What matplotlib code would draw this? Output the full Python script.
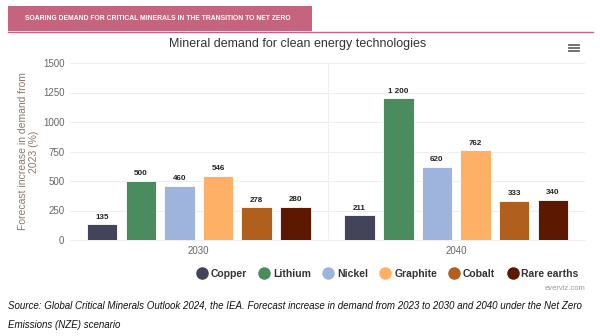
import matplotlib
matplotlib.use("Agg")
import matplotlib.pyplot as plt
from matplotlib.patches import Rectangle
from matplotlib.lines import Line2D
import numpy as np

years = ["2030", "2040"]
minerals = ["Copper", "Lithium", "Nickel", "Graphite", "Cobalt", "Rare earths"]
copper = [135, 211]
lithium = [500, 1200]
nickel = [460, 620]
graphite = [546, 762]
cobalt = [278, 333]
rare_earths = [280, 340]
labels_2040 = ["211", "1 200", "620", "762", "333", "340"]
colors = ["#434459", "#4a8c5e", "#9fb4dd", "#feb066", "#b0601c", "#5c1800"]
yticks = [0, 250, 500, 750, 1000, 1250, 1500]

series = [copper, lithium, nickel, graphite, cobalt, rare_earths]

plt.rcParams["font.family"] = ["Liberation Sans", "DejaVu Sans"]

fig = plt.figure(figsize=(6, 3.36), dpi=100)
fig.patch.set_facecolor("white")

# header banner
fig.add_artist(Rectangle((8/600, 1-31/336), (312-8)/600, 25/336, transform=fig.transFigure,
                         facecolor="#c4647f", edgecolor="none"))
fig.add_artist(Line2D([8/600, 593/600], [1-31.5/336, 1-31.5/336], transform=fig.transFigure,
                      color="#c4647f", lw=1))
fig.text(25/600, 1-19/336, "SOARING DEMAND FOR CRITICAL MINERALS IN THE TRANSITION TO NET ZERO",
         color="white", fontsize=4.9, fontweight="bold", va="center", ha="left")

fig.text(298/600, 1-44/336, "Mineral demand for clean energy technologies", ha="center", va="center",
         fontsize=9, color="#333333")
# hamburger icon
for dy in (-3, 0, 3):
    fig.add_artist(Line2D([569/600, 579/600], [1-(48+dy)/336]*2, transform=fig.transFigure,
                          color="#666666", lw=1.3))

ax = fig.add_axes([70/600, 96/336, 515/600, 177/336])
x = np.arange(len(years))
pitch = 0.15
width = 0.118
for i, (name, vals, c) in enumerate(zip(minerals, series, colors)):
    pos = x + (i - 2.5) * pitch
    ax.bar(pos, vals, width=width, color=c, edgecolor="white", linewidth=0.6, label=name, zorder=3)
    for j, (p, v) in enumerate(zip(pos, vals)):
        txt = labels_2040[i] if j == 1 else str(v)
        ax.text(p, v + 30, txt, ha="center", va="bottom", fontsize=5.8, fontweight="bold", color="#222222")

ax.set_xlim(-0.5, 1.5)
ax.set_ylim(0, 1500)
ax.set_yticks(yticks)
ax.set_yticklabels([str(t) for t in yticks], fontsize=7, color="#666666")
ax.set_xticks(x)
ax.set_xticklabels(years, fontsize=7, color="#666666")
ax.tick_params(axis="both", length=0, pad=4)
ax.grid(axis="y", color="#eeeeee", lw=0.8, zorder=0)
ax.axvline(0.5, color="#eeeeee", lw=0.8, zorder=0)
for s in ("top", "right", "left"):
    ax.spines[s].set_visible(False)
ax.spines["bottom"].set_color("#eeeeee")
ax.set_ylabel("Forecast increase in demand from\n2023 (%)", fontsize=7.5, color="#8a7a6a", labelpad=3,
              linespacing=1.1)

handles = [Line2D([0], [0], marker="o", color="none", markerfacecolor=c, markeredgecolor=c,
                  markersize=8) for c in colors]
fig.legend(handles, minerals, loc="center right", bbox_to_anchor=(588/600, 1-274/336), ncol=6,
           frameon=False, handletextpad=0.25, columnspacing=1.05, handlelength=1.2,
           prop={"weight": "bold", "size": 7.5}, labelcolor="#333333")

fig.text(585/600, 1-288/336, "everviz.com", ha="right", va="center", fontsize=5.5, color="#999999")
fig.text(8/600, 1-305/336,
         "Source: Global Critical Minerals Outlook 2024, the IEA. Forecast increase in demand from 2023 to 2030 and 2040 under the Net Zero",
         ha="left", va="center", fontsize=7.0, style="italic", color="#111111")
fig.text(8/600, 1-325/336, "Emissions (NZE) scenario",
         ha="left", va="center", fontsize=7.0, style="italic", color="#111111")

fig.savefig("out.png", dpi=100)
